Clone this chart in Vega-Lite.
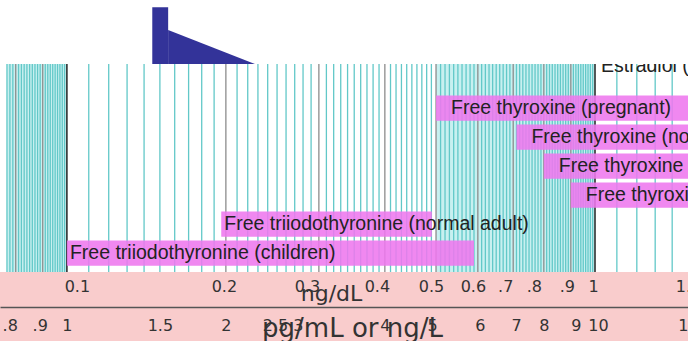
{
  "$schema": "https://vega.github.io/schema/vega-lite/v6.json",
  "background": "#f9cccc",
  "padding": 0,
  "spacing": 0,
  "bounds": "flush",
  "config": {"view": {"stroke": null}},
  "datasets": {
    "pointer_stem": [{"ng": 0.1451, "ng2": 0.1555, "h": 56.7}],
    "pointer_tail": [{"ng": 0.1555, "h": 34}, {"ng": 0.227, "h": 0}],
    "shade": [{"from": 0.077, "to": 0.1}, {"from": 0.5, "to": 1}],
    "minor": [
      {"v": 0.077}, {"v": 0.078}, {"v": 0.079}, {"v": 0.081}, {"v": 0.082}, {"v": 0.083}, {"v": 0.084}, {"v": 0.085}, {"v": 0.086}, {"v": 0.087}, {"v": 0.088}, {"v": 0.089},
      {"v": 0.091}, {"v": 0.092}, {"v": 0.093}, {"v": 0.094}, {"v": 0.095}, {"v": 0.096}, {"v": 0.097}, {"v": 0.098}, {"v": 0.099},
      {"v": 0.11}, {"v": 0.12}, {"v": 0.13}, {"v": 0.14}, {"v": 0.15}, {"v": 0.16}, {"v": 0.17}, {"v": 0.18}, {"v": 0.19},
      {"v": 0.21}, {"v": 0.22}, {"v": 0.23}, {"v": 0.24}, {"v": 0.25}, {"v": 0.26}, {"v": 0.27}, {"v": 0.28}, {"v": 0.29},
      {"v": 0.31}, {"v": 0.32}, {"v": 0.33}, {"v": 0.34}, {"v": 0.35}, {"v": 0.36}, {"v": 0.37}, {"v": 0.38}, {"v": 0.39},
      {"v": 0.41}, {"v": 0.42}, {"v": 0.43}, {"v": 0.44}, {"v": 0.45}, {"v": 0.46}, {"v": 0.47}, {"v": 0.48}, {"v": 0.49},
      {"v": 0.51}, {"v": 0.52}, {"v": 0.53}, {"v": 0.54}, {"v": 0.55}, {"v": 0.56}, {"v": 0.57}, {"v": 0.58}, {"v": 0.59},
      {"v": 0.61}, {"v": 0.62}, {"v": 0.63}, {"v": 0.64}, {"v": 0.65}, {"v": 0.66}, {"v": 0.67}, {"v": 0.68}, {"v": 0.69},
      {"v": 0.71}, {"v": 0.72}, {"v": 0.73}, {"v": 0.74}, {"v": 0.75}, {"v": 0.76}, {"v": 0.77}, {"v": 0.78}, {"v": 0.79},
      {"v": 0.81}, {"v": 0.82}, {"v": 0.83}, {"v": 0.84}, {"v": 0.85}, {"v": 0.86}, {"v": 0.87}, {"v": 0.88}, {"v": 0.89},
      {"v": 0.91}, {"v": 0.92}, {"v": 0.93}, {"v": 0.94}, {"v": 0.95}, {"v": 0.96}, {"v": 0.97}, {"v": 0.98}, {"v": 0.99},
      {"v": 1.1}, {"v": 1.2}, {"v": 1.3}, {"v": 1.4}
    ],
    "mid": [
      {"v": 0.08}, {"v": 0.09}, {"v": 0.2}, {"v": 0.3}, {"v": 0.4}, {"v": 0.5}, {"v": 0.6}, {"v": 0.7}, {"v": 0.8}, {"v": 0.9}
    ],
    "major": [{"v": 0.1}, {"v": 1}],
    "ranges": [
      {"label": "Estradiol (adult male)", "group": "Estradiol", "from": 1.0, "to": null},
      {"label": "Free thyroxine (pregnant)", "group": "T4", "from": 0.5, "to": 1.6},
      {"label": "Free thyroxine (normal adult)", "group": "T4", "from": 0.71, "to": 1.8},
      {"label": "Free thyroxine (children)", "group": "T4", "from": 0.8, "to": 2.0},
      {"label": "Free thyroxine (newborns)", "group": "T4", "from": 0.9, "to": 2.2},
      {"label": "Free triiodothyronine (normal adult)", "group": "T3", "from": 0.196, "to": 0.491},
      {"label": "Free triiodothyronine (children)", "group": "T3", "from": 0.1, "to": 0.59}
    ]
  },
  "vconcat": [
    {
      "width": 688,
      "height": 64,
      "view": {"fill": "white", "stroke": null},
      "layer": [
        {
          "data": {"name": "pointer_stem"},
          "mark": {"type": "rect", "color": "#333399"},
          "encoding": {
            "x": {"field": "ng", "type": "quantitative", "scale": {"type": "log", "domain": [0.0747, 1.5]}, "axis": null},
            "x2": {"field": "ng2"},
            "y": {"field": "h", "type": "quantitative", "scale": {"domain": [0, 64]}, "axis": null},
            "y2": {"datum": 0}
          }
        },
        {
          "data": {"name": "pointer_tail"},
          "mark": {"type": "area", "color": "#333399"},
          "encoding": {
            "x": {"field": "ng", "type": "quantitative", "scale": {"type": "log", "domain": [0.0747, 1.5]}, "axis": null},
            "y": {"field": "h", "type": "quantitative", "scale": {"domain": [0, 64]}, "axis": null}
          }
        }
      ]
    },
    {
      "width": 688,
      "height": 208,
      "view": {"fill": "white", "stroke": null},
      "layer": [
        {
          "data": {"name": "shade"},
          "mark": {"type": "rect", "color": "#c8f0f0"},
          "encoding": {
            "x": {"field": "from", "type": "quantitative", "scale": {"type": "log", "domain": [0.0747, 1.5]}, "axis": null},
            "x2": {"field": "to"}
          }
        },
        {
          "data": {"name": "minor"},
          "mark": {"type": "rule", "color": "#62c8c8", "strokeWidth": 1.3},
          "encoding": {
            "x": {"field": "v", "type": "quantitative", "scale": {"type": "log", "domain": [0.0747, 1.5]}, "axis": null}
          }
        },
        {
          "data": {"name": "mid"},
          "mark": {"type": "rule", "color": "#8c8c8c", "strokeWidth": 1.3},
          "encoding": {
            "x": {"field": "v", "type": "quantitative", "scale": {"type": "log", "domain": [0.0747, 1.5]}, "axis": null}
          }
        },
        {
          "data": {"name": "major"},
          "mark": {"type": "rule", "color": "#222222", "strokeWidth": 1.5},
          "encoding": {
            "x": {"field": "v", "type": "quantitative", "scale": {"type": "log", "domain": [0.0747, 1.5]}, "axis": null}
          }
        },
        {
          "data": {"name": "ranges"},
          "transform": [{"filter": "datum.group == 'Estradiol'"}],
          "mark": {"type": "text", "align": "left", "baseline": "middle", "dx": 6, "dy": -13, "font": "Liberation Sans", "fontSize": 19.5, "color": "#222222", "clip": true},
          "encoding": {
            "x": {"field": "from", "type": "quantitative", "scale": {"type": "log", "domain": [0.0747, 1.5]}, "axis": null},
            "y": {
              "field": "label", "type": "nominal", "sort": null, "axis": null,
              "scale": {"type": "band", "paddingInner": 0.13, "paddingOuter": 0.151, "align": 0.296}
            },
            "text": {"field": "label"}
          }
        },
        {
          "data": {"name": "ranges"},
          "transform": [{"filter": "isValid(datum.to)"}],
          "mark": {"type": "bar", "color": "#ee77ee", "opacity": 0.88, "clip": true},
          "encoding": {
            "x": {"field": "from", "type": "quantitative", "scale": {"type": "log", "domain": [0.0747, 1.5]}, "axis": null},
            "x2": {"field": "to"},
            "y": {"field": "label", "type": "nominal", "sort": null, "axis": null}
          }
        },
        {
          "data": {"name": "ranges"},
          "transform": [{"filter": "datum.group == 'T3'"}],
          "mark": {"type": "text", "align": "left", "baseline": "middle", "dx": 3, "font": "Liberation Sans", "fontSize": 19.5, "color": "#222222", "clip": true},
          "encoding": {
            "x": {"field": "from", "type": "quantitative", "scale": {"type": "log", "domain": [0.0747, 1.5]}, "axis": null},
            "y": {"field": "label", "type": "nominal", "sort": null, "axis": null},
            "text": {"field": "label"}
          }
        },
        {
          "data": {"name": "ranges"},
          "transform": [{"filter": "datum.group == 'T4'"}],
          "mark": {"type": "text", "align": "left", "baseline": "middle", "dx": 15, "font": "Liberation Sans", "fontSize": 19.5, "color": "#222222", "clip": true},
          "encoding": {
            "x": {"field": "from", "type": "quantitative", "scale": {"type": "log", "domain": [0.0747, 1.5]}, "axis": null},
            "y": {"field": "label", "type": "nominal", "sort": null, "axis": null},
            "text": {"field": "label"}
          }
        }
      ]
    },
    {
      "width": 688,
      "height": 1,
      "data": {"values": [{"ng": 1}]},
      "mark": {"type": "rule", "opacity": 0},
      "encoding": {
        "x": {
          "field": "ng", "type": "quantitative",
          "scale": {"type": "log", "domain": [0.0747, 1.5]},
          "axis": {
            "orient": "bottom",
            "values": [0.1, 0.2, 0.3, 0.4, 0.5, 0.6, 0.7, 0.8, 0.9, 1, 1.5],
            "labelExpr": "datum.value > 0.65 ? (datum.value < 0.95 ? replace(format(datum.value, '.1f'), '0.', '.') : format(datum.value, '~g')) : format(datum.value, '~g')",
            "labelOffset": {
              "condition": [
                {"test": "datum.value == 0.1", "value": 10},
                {"test": "datum.value == 0.2", "value": -2},
                {"test": "datum.value == 0.3", "value": -12},
                {"test": "datum.value == 0.4", "value": -8},
                {"test": "datum.value == 0.7", "value": -8},
                {"test": "datum.value == 0.8", "value": -10},
                {"test": "datum.value == 0.9", "value": -4},
                {"test": "datum.value == 1", "value": -2},
                {"test": "datum.value == 1.5", "value": 0}
              ],
              "value": -5
            },
            "grid": false,
            "ticks": false,
            "domain": true,
            "domainOpacity": 0,
            "labelPadding": 5,
            "labelFont": "DejaVu Sans",
            "labelFontSize": 16,
            "labelColor": "#333333",
            "labelOverlap": false,
            "labelFlush": false,
            "title": "ng/dL",
            "titleFont": "DejaVu Sans",
            "titleFontSize": 22,
            "titleFontWeight": "normal",
            "titleColor": "#333333",
            "titleX": 331,
            "titleY": 27,
            "titleBaseline": "alphabetic",
            "titleAlign": "center"
          }
        }
      }
    },
    {
      "width": 688,
      "height": 34,
      "data": {"values": [{"pg": 1}]},
      "mark": {"type": "rule", "opacity": 0},
      "encoding": {
        "x": {
          "field": "pg", "type": "quantitative",
          "scale": {"type": "log", "domain": [0.747, 15]},
          "axis": {
            "orient": "bottom",
            "values": [0.8, 0.9, 1, 1.5, 2, 2.5, 3, 4, 5, 6, 7, 8, 9, 10, 15],
            "labelExpr": "datum.value < 1 ? replace(format(datum.value, '.1f'), '0.', '.') : format(datum.value, '~g')",
            "labelOffset": {
              "condition": [
                {"test": "datum.value == 0.8", "value": -6},
                {"test": "datum.value == 0.9", "value": -3},
                {"test": "datum.value == 2.5", "value": -2},
                {"test": "datum.value == 3", "value": -21},
                {"test": "datum.value == 5", "value": -4},
                {"test": "datum.value == 6", "value": 2},
                {"test": "datum.value == 7", "value": 3},
                {"test": "datum.value == 9", "value": 5},
                {"test": "datum.value == 10", "value": 3}
              ],
              "value": 0
            },
            "grid": false,
            "ticks": false,
            "domain": true,
            "domainColor": "#555555",
            "domainWidth": 1.5,
            "labelPadding": 10,
            "labelFont": "DejaVu Sans",
            "labelFontSize": 16,
            "labelColor": "#333333",
            "labelOverlap": false,
            "labelFlush": false,
            "title": "pg/mL or ng/L",
            "titleFont": "DejaVu Sans",
            "titleFontSize": 26,
            "titleFontWeight": "normal",
            "titleColor": "#333333",
            "titleX": 352,
            "titleY": 29,
            "titleBaseline": "alphabetic",
            "titleAlign": "center"
          }
        }
      }
    }
  ]
}
